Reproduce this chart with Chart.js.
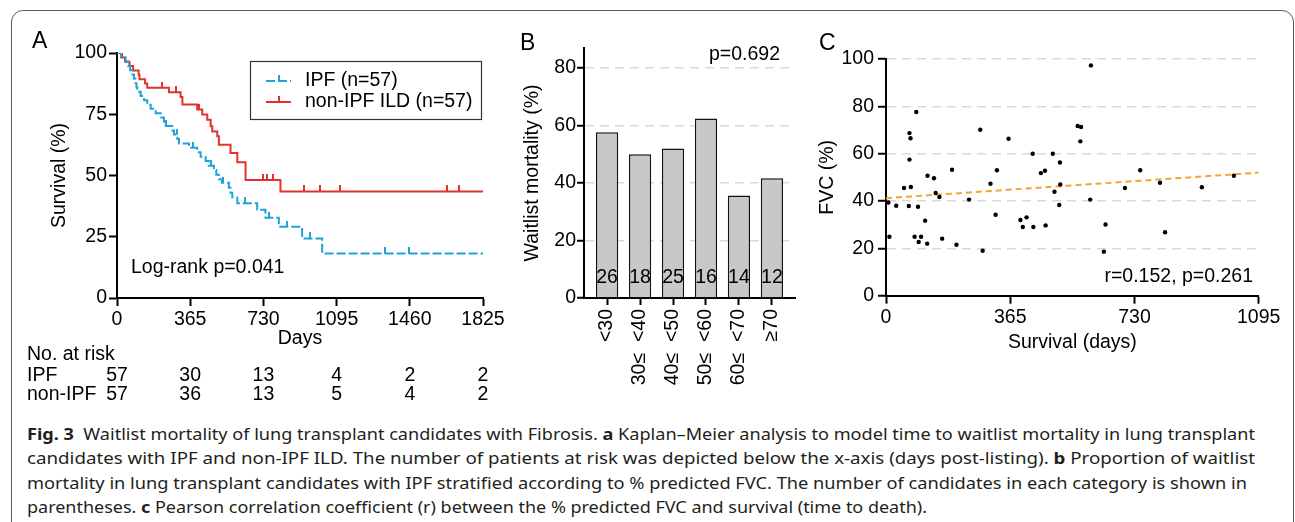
<!DOCTYPE html>
<html>
<head>
<meta charset="utf-8">
<script src="https://cdn.jsdelivr.net/npm/chart.js@4.4.1/dist/chart.umd.min.js"></script>
<style>
  html, body { margin: 0; padding: 0; background: #fff; width: 1295px; height: 522px; overflow: hidden; }
  #frame { position: absolute; left: 11px; top: 10px; width: 1283px; height: 700px; box-sizing: border-box;
           border: 1.2px solid #5c5c5c; border-radius: 12px; }
  canvas { position: absolute; }
  .letter { position: absolute; font: 23px "Liberation Sans", Arial, sans-serif; color: #000; line-height: 24px; }
  .cl { position: absolute; left: 27px; white-space: pre; font: 16.5px "Noto Sans", "Open Sans", sans-serif;
        color: #231f20; line-height: 20px; transform-origin: 0 50%; }
  .cl b { font-weight: 700; }
</style>
</head>
<body>
<div id="frame"></div>
<canvas id="km" width="520" height="410" style="left:0;top:0"></canvas>
<canvas id="bars" width="320" height="400" style="left:500px;top:0"></canvas>
<canvas id="fvc" width="495" height="370" style="left:800px;top:0"></canvas>
<div class="letter" style="left:32px;top:28px">A</div>
<div class="letter" style="left:520px;top:30px">B</div>
<div class="letter" style="left:819px;top:30px">C</div>
<div class="cl" data-w="1228" style="top:424px"><b>Fig. 3</b>  Waitlist mortality of lung transplant candidates with Fibrosis. <b>a</b> Kaplan–Meier analysis to model time to waitlist mortality in lung transplant</div>
<div class="cl" data-w="1228" style="top:448px">candidates with IPF and non-IPF ILD. The number of patients at risk was depicted below the x-axis (days post-listing). <b>b</b> Proportion of waitlist</div>
<div class="cl" data-w="1220" style="top:473px">mortality in lung transplant candidates with IPF stratified according to % predicted FVC. The number of candidates in each category is shown in</div>
<div class="cl" data-w="900" style="top:497px">parentheses. <b>c</b> Pearson correlation coefficient (r) between the % predicted FVC and survival (time to death).</div>
<script>
// ---- panel A: Kaplan-Meier ----
const kmTicks = [0, 365, 730, 1095, 1460, 1825];
const ipfDays = [0, 20, 43, 55, 65, 77, 85, 93, 97, 101, 118, 135, 151, 168, 193, 218, 234, 243, 276, 284,
  301, 309, 359, 400, 417, 442, 458, 483, 495, 508, 523, 558, 566, 575, 600, 699, 740, 807, 923, 1023, 1825];
const ipfSurv = [100, 98.2, 96.5, 94.7, 93.0, 91.2, 89.5, 87.7, 86.0, 84.2, 82.5, 80.7, 78.9, 77.2, 75.4, 73.7, 71.9, 70.2, 68.4, 66.7,
  64.9, 63.1, 61.3, 59.5, 57.7, 55.9, 54.0, 52.2, 50.3, 48.5, 47.0, 45.0, 43.0, 41.0, 38.7, 36.0, 32.8, 29.1, 24.3, 18.2, 18.2];
const nonDays = [0, 25, 40, 62, 80, 108, 112, 140, 151, 259, 317, 326, 400, 425, 450, 467, 475, 500, 508, 566, 600, 641, 815, 1825];
const nonSurv = [100, 98.2, 96.4, 94.7, 92.9, 91.1, 89.3, 87.6, 85.8, 84.0, 82.0, 79.0, 76.9, 74.9, 72.8, 70.1, 68.0, 66.0, 62.6, 59.2, 55.4, 48.2, 43.5, 43.5];
const ipfCensDays = [243, 300, 380, 470, 530, 640, 760, 850, 960, 1338, 1458];
const ipfCensSurv = [70.2, 66.7, 61.3, 54.0, 47.0, 38.7, 32.8, 29.1, 24.3, 18.2, 18.2];
const nonCensDays = [226, 296, 408, 727, 749, 777, 931, 1014, 1114, 1645, 1703];
const nonCensSurv = [85.8, 84.0, 76.9, 48.2, 48.2, 48.2, 43.5, 43.5, 43.5, 43.5, 43.5];
const riskGroups = ['IPF', 'non-IPF'];
const riskIpf = [57, 30, 13, 4, 2, 2];
const riskNon = [57, 36, 13, 5, 4, 2];

// ---- panel B: mortality by FVC group ----
const fvcGroups = ['<30', '30≤  <40', '40≤  <50', '50≤  <60', '60≤  <70', '≥70'];
const mortality = [57.7, 50.0, 52.0, 62.5, 35.7, 41.7];
const groupN = [26, 18, 25, 16, 14, 12];

// ---- panel C: FVC vs survival ----
const survDays = [7, 10, 30, 53, 67, 69, 72, 69, 73, 89, 84, 94, 96, 103, 115, 122, 121, 141, 146, 157,
  165, 194, 207, 244, 277, 284, 307, 322, 326, 360, 395, 402, 413, 431, 433, 455, 467, 469, 490, 495,
  511, 512, 509, 563, 573, 571, 602, 600, 640, 645, 702, 747, 805, 820, 928, 1022];
const fvcPct = [39.4, 24.9, 38.0, 45.5, 37.9, 68.7, 66.5, 57.5, 45.9, 77.6, 24.9, 37.6, 22.7, 24.9, 31.7, 50.7, 22.0, 49.6, 43.4, 41.7,
  24.1, 53.2, 21.5, 40.6, 70.1, 19.0, 47.3, 34.2, 53.0, 66.3, 32.0, 29.0, 33.1, 60.0, 29.0, 51.8, 52.8, 29.7, 60.0, 43.9,
  56.3, 47.0, 38.3, 71.7, 71.3, 65.2, 97.3, 40.6, 18.6, 30.1, 45.5, 53.0, 47.7, 26.8, 45.8, 50.7];
const trendDays = [0, 1095];
const trendFvc = [41.2, 52.0];
const fvcTicks = [0, 365, 730, 1095];

const FONT = '"Liberation Sans", Arial, sans-serif';
const FS = 19.5;
const blue = '#1fa4d8';
const red = '#e2322b';

Chart.defaults.font.family = FONT;
Chart.defaults.font.size = FS;
Chart.defaults.color = '#000';

function pts(xs, ys) {
  return xs.map((x, i) => ({ x: x, y: ys[i] }));
}

function censorMark(color) {
  const c = document.createElement('canvas');
  c.width = 2; c.height = 12;
  const g = c.getContext('2d');
  g.fillStyle = color;
  g.fillRect(0, 0, 2, 6);
  return c;
}

function fixTicks(values) {
  return (s) => { s.ticks = values.map((v) => ({ value: v })); };
}

const plain = (v) => String(v);
const axisX = { color: '#000', width: 2 };
const noTip = { legend: { display: false }, tooltip: { enabled: false } };

// notes drawn on top of panel A
const kmNotes = {
  id: 'kmNotes',
  afterDraw(chart) {
    const ctx = chart.ctx;
    const x = chart.scales.x;
    ctx.save();
    ctx.font = FS + 'px ' + FONT;
    ctx.fillStyle = '#000';
    ctx.textBaseline = 'middle';
    ctx.textAlign = 'left';
    ctx.fillText('Log-rank p=0.041', 131, 268);

    // legend box
    ctx.strokeStyle = '#333';
    ctx.lineWidth = 1.2;
    ctx.strokeRect(250.5, 61.5, 231, 58);
    const rows = [[blue, [9, 3], 'IPF (n=57)', 81], [red, [], 'non-IPF ILD (n=57)', 102]];
    rows.forEach((r) => {
      ctx.strokeStyle = r[0];
      ctx.lineWidth = 2;
      ctx.setLineDash(r[1]);
      ctx.beginPath(); ctx.moveTo(266, r[3]); ctx.lineTo(291, r[3]); ctx.stroke();
      ctx.setLineDash([]);
      ctx.beginPath(); ctx.moveTo(279, r[3]); ctx.lineTo(279, r[3] - 6); ctx.stroke();
      ctx.fillText(r[2], 305, r[3]);
    });

    // number at risk
    ctx.fillText('No. at risk', 27, 355);
    [riskIpf, riskNon].forEach((row, k) => {
      const y = k === 0 ? 376 : 395;
      ctx.textAlign = 'left';
      ctx.fillText(riskGroups[k], 27, y);
      ctx.textAlign = 'center';
      row.forEach((n, i) => ctx.fillText(String(n), x.getPixelForValue(kmTicks[i]), y));
    });
    ctx.restore();
  }
};

new Chart(document.getElementById('km'), {
  type: 'scatter',
  data: {
    datasets: [
      { data: pts(ipfDays, ipfSurv), showLine: true, stepped: true, borderColor: blue, borderWidth: 2, borderDash: [9, 3], pointRadius: 0 },
      { data: pts(nonDays, nonSurv), showLine: true, stepped: true, borderColor: red, borderWidth: 2, pointRadius: 0 },
      { data: pts(ipfCensDays, ipfCensSurv), pointStyle: censorMark(blue), pointRadius: 4 },
      { data: pts(nonCensDays, nonCensSurv), pointStyle: censorMark(red), pointRadius: 4 },
    ],
  },
  options: {
    responsive: false,
    animation: false,
    layout: { padding: { top: 53, right: 37, bottom: 50, left: 0 } },
    plugins: noTip,
    scales: {
      x: {
        type: 'linear', min: 0, max: 1825,
        afterBuildTicks: fixTicks(kmTicks),
        afterFit: (s) => { s.height = 62; },
        grid: { drawOnChartArea: false, tickLength: 8, tickColor: '#000', tickWidth: 2 },
        border: axisX,
        ticks: { padding: 2, maxRotation: 0, callback: plain },
        title: { display: true, text: 'Days', padding: { top: 0, bottom: 9.3 } },
      },
      y: {
        min: 0, max: 100,
        afterBuildTicks: fixTicks([0, 25, 50, 75, 100]),
        afterFit: (s) => { s.width = 117; },
        grid: { drawOnChartArea: false, tickLength: 8, tickColor: '#000', tickWidth: 2 },
        border: axisX,
        ticks: { padding: 2, callback: plain },
        title: { display: true, text: 'Survival (%)', padding: { top: 48.3, bottom: 0 } },
      },
    },
  },
  plugins: [kmNotes],
});

// panel B
const barNotes = {
  id: 'barNotes',
  afterDraw(chart) {
    const ctx = chart.ctx;
    const meta = chart.getDatasetMeta(0);
    ctx.save();
    ctx.font = FS + 'px ' + FONT;
    ctx.fillStyle = '#000';
    ctx.textBaseline = 'middle';
    ctx.textAlign = 'center';
    meta.data.forEach((bar, i) => ctx.fillText(String(groupN[i]), bar.x, 278));
    ctx.textAlign = 'right';
    ctx.fillText('p=0.692', 280, 55);
    ctx.restore();
  }
};

new Chart(document.getElementById('bars'), {
  type: 'bar',
  data: {
    datasets: [{
      data: pts(mortality.map((v, i) => i), mortality),
      backgroundColor: '#c8c8c8', borderColor: '#111', borderWidth: 1.5,
      barPercentage: 0.675, categoryPercentage: 1,
    }],
  },
  options: {
    responsive: false,
    animation: false,
    layout: { padding: { top: 48, right: 25, bottom: 0, left: 0 } },
    plugins: noTip,
    scales: {
      x: {
        type: 'linear', min: -0.7, max: 5.7, offset: false,
        afterBuildTicks: fixTicks(fvcGroups.map((g, i) => i)),
        afterFit: (s) => { s.height = 102; },
        grid: { offset: false, drawOnChartArea: false, tickLength: 7, tickColor: '#000', tickWidth: 2 },
        border: axisX,
        ticks: { callback: (v) => fvcGroups[v], minRotation: 90, maxRotation: 90, autoSkip: false, padding: 4 },
      },
      y: {
        min: 0, max: 87,
        afterBuildTicks: fixTicks([0, 20, 40, 60, 80]),
        afterFit: (s) => { s.width = 84; },
        grid: {
          color: (c) => (c.tick && c.tick.value === 0 ? 'rgba(0,0,0,0)' : '#d9d9d9'),
          lineWidth: 1.5, tickLength: 7, tickColor: '#000', tickWidth: 2,
        },
        border: { color: '#000', width: 2, dash: [9, 6] },
        ticks: { padding: 1, callback: plain },
        title: { display: true, text: 'Waitlist mortality (%)', padding: { top: 21.3, bottom: 0 } },
      },
    },
  },
  plugins: [barNotes],
});

// panel C
const fvcNotes = {
  id: 'fvcNotes',
  afterDraw(chart) {
    const ctx = chart.ctx;
    ctx.save();
    ctx.font = FS + 'px ' + FONT;
    ctx.fillStyle = '#000';
    ctx.textBaseline = 'middle';
    ctx.textAlign = 'right';
    ctx.fillText('r=0.152, p=0.261', 453, 277);
    ctx.restore();
  }
};

new Chart(document.getElementById('fvc'), {
  type: 'scatter',
  data: {
    datasets: [
      { data: pts(survDays, fvcPct), pointRadius: 2.2, backgroundColor: '#000', borderWidth: 0 },
      { data: pts(trendDays, trendFvc), showLine: true, pointRadius: 0, borderColor: '#f5a42c', borderWidth: 2, borderDash: [6, 4] },
    ],
  },
  options: {
    responsive: false,
    animation: false,
    layout: { padding: { top: 59, right: 36.3, bottom: 0, left: 0 } },
    plugins: noTip,
    scales: {
      x: {
        type: 'linear', min: 0, max: 1095,
        afterBuildTicks: fixTicks(fvcTicks),
        afterFit: (s) => { s.height = 74.3; },
        grid: { drawOnChartArea: false, tickLength: 8, tickColor: '#000', tickWidth: 2 },
        border: axisX,
        ticks: { padding: 2, maxRotation: 0, callback: plain },
        title: { display: true, text: 'Survival (days)', padding: { top: 0, bottom: 15.3 } },
      },
      y: {
        min: 0, max: 100,
        afterBuildTicks: fixTicks([0, 20, 40, 60, 80, 100]),
        afterFit: (s) => { s.width = 86; },
        grid: {
          color: (c) => (c.tick && c.tick.value === 0 ? 'rgba(0,0,0,0)' : '#d9d9d9'),
          lineWidth: 1.5, tickLength: 8, tickColor: '#000', tickWidth: 2,
        },
        border: { color: '#000', width: 2, dash: [9, 6] },
        ticks: { padding: 4, callback: plain },
        title: { display: true, text: 'FVC (%)', padding: { top: 15.8, bottom: 0 } },
      },
    },
  },
  plugins: [fvcNotes],
});

// squeeze caption lines to the widths of the original
document.querySelectorAll('.cl').forEach((el) => {
  const w = el.getBoundingClientRect().width;
  el.style.transform = 'scaleX(' + (Number(el.dataset.w) / w) + ')';
});
</script>
</body>
</html>
